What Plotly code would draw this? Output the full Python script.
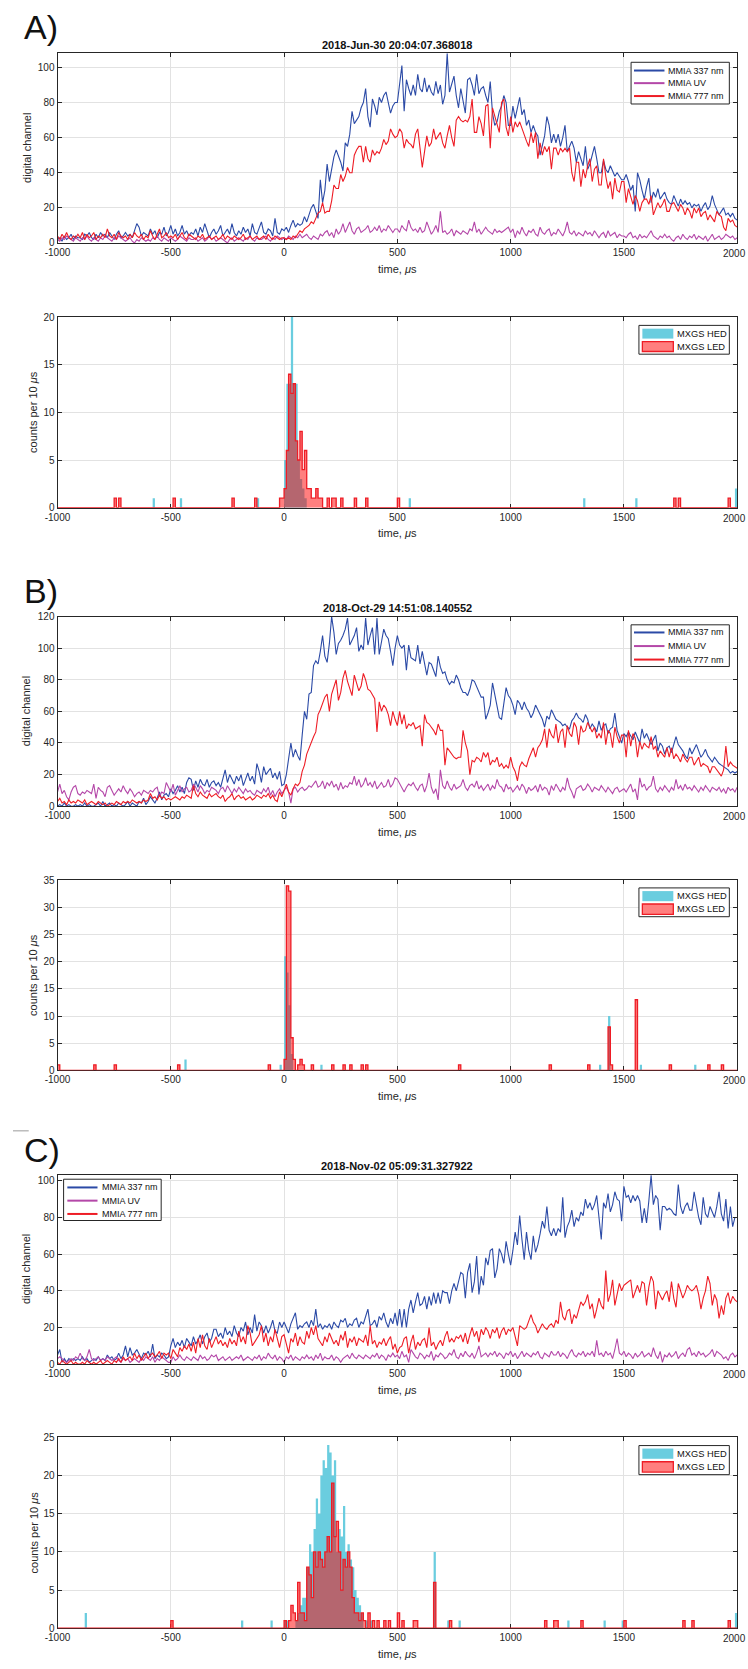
import plotly.graph_objects as go

W, H = 748, 1669

# ---------------- data ----------------
t_us = list(range(-1000, 2001, 10))          # MMIA samples, 10 us
bin_edges = list(range(-1000, 2001, 10))     # MXGS histogram bin edges

x_tickvals = [-1000, -500, 0, 500, 1000, 1500, 2000]
x_ticktext = ['-1000', '-500', '0', '500', '1000', '1500', '']
x_last_label = '2000'   # drawn flush with the page edge, as in the original

titles = ['2018-Jun-30 20:04:07.368018', '2018-Oct-29 14:51:08.140552', '2018-Nov-02 05:09:31.327922']
panel_labels = ['A)', 'B)', 'C)']
line_names = ['MMIA 337 nm', 'MMIA UV', 'MMIA 777 nm']
hist_names = ['MXGS HED', 'MXGS LED']

a337 = [2, 3, 1, 4, 2, 3, 5, 2, 4, 3,
        3, 2, 5, 4, 6, 3, 2, 5, 3, 6,
        4, 5, 3, 6, 4, 2, 5, 7, 3, 4,
        6, 4, 5, 3, 7, 11, 9, 4, 6, 5,
        4, 8, 5, 7, 3, 6, 5, 9, 4, 6,
        10, 5, 8, 4, 6, 10, 5, 7, 4, 6,
        5, 8, 4, 9, 6, 11, 7, 3, 6, 8,
        5, 7, 10, 4, 6, 8, 5, 11, 6, 4,
        7, 5, 9, 6, 8, 4, 11, 6, 5, 9,
        12, 6, 5, 8, 7, 4, 14, 6, 5, 8,
        7, 9, 6, 10, 13, 9, 11, 10, 11, 15,
        12, 16, 20, 22, 18, 14, 36, 23, 30, 45,
        35, 42, 49, 53, 50, 46, 41, 57, 55, 62,
        75, 68, 70, 72, 77, 80, 88, 72, 66, 82,
        78, 73, 83, 80, 84, 86, 80, 74, 78, 80,
        80, 90, 101, 75, 93, 88, 84, 90, 84, 96,
        88, 86, 94, 86, 90, 86, 84, 92, 85, 90,
        79, 84, 108, 86, 90, 95, 84, 77, 88, 80,
        74, 93, 94, 90, 84, 96, 85, 88, 89, 84,
        80, 92, 74, 67, 69, 75, 78, 84, 80, 67,
        67, 78, 71, 77, 83, 73, 76, 67, 70, 63,
        67, 63, 61, 50, 55, 61, 72, 67, 57, 62,
        57, 62, 55, 60, 67, 52, 55, 58, 54, 46,
        52, 48, 44, 55, 42, 45, 50, 55, 48, 40,
        40, 47, 42, 40, 44, 41, 38, 40, 38, 36,
        36, 39, 35, 30, 33, 18, 40, 36, 30, 25,
        32, 37, 23, 29, 26, 31, 25, 27, 29, 25,
        23, 22, 27, 24, 21, 25, 22, 24, 22, 23,
        20, 22, 21, 22, 18, 21, 23, 19, 21, 27,
        22, 19, 16, 18, 20, 16, 17, 15, 17, 14,
        13]

a_uv = [2, 1, 3, 2, 4, 3, 2, 1, 3, 2,
        1, 3, 2, 4, 2, 1, 3, 2, 1, 3,
        2, 4, 3, 2, 1, 3, 2, 4, 3, 2,
        1, 2, 3, 1, 0, 2, 1, 3, 2, 1,
        2, 1, 3, 2, 4, 2, 1, 3, 2, 1,
        3, 2, 1, 2, 4, 3, 2, 1, 3, 2,
        2, 3, 1, 2, 3, 1, 2, 4, 2, 3,
        1, 2, 3, 2, 1, 0, 2, 3, 1, 2,
        3, 2, 1, 3, 2, 4, 2, 1, 3, 2,
        2, 3, 4, 2, 1, 3, 2, 4, 3, 2,
        3, 2, 4, 3, 2, 4, 3, 5, 3, 4,
        5, 3, 2, 4, 3, 2, 5, 4, 6, 7,
        4, 6, 3, 8, 5, 7, 11, 6, 9, 12,
        7, 5, 8, 9, 6, 7, 8, 10, 6, 7,
        9, 7, 10, 6, 8, 7, 10, 8, 6, 8,
        8, 6, 10, 8, 7, 13, 9, 7, 8, 6,
        9, 6, 7, 12, 8, 5, 7, 10, 6, 18,
        6, 7, 5, 6, 8, 4, 7, 6, 5, 7,
        6, 5, 8, 7, 12, 6, 8, 5, 7, 9,
        7, 6, 5, 8, 6, 7, 6, 7, 8, 9,
        6, 8, 3, 7, 5, 9, 6, 4, 7, 6,
        8, 5, 4, 9, 6, 5, 7, 8, 4, 6,
        5, 8, 6, 4, 7, 12, 6, 5, 7, 4,
        6, 5, 4, 7, 5, 6, 4, 7, 5, 3,
        5, 6, 3, 7, 4, 5, 6, 3, 5, 4,
        4, 3, 5, 6, 3, 4, 2, 5, 3, 4,
        3, 5, 7, 4, 3, 2, 4, 3, 5, 3,
        4, 2, 1, 3, 4, 2, 5, 3, 2, 4,
        3, 5, 2, 4, 3, 2, 4, 1, 3, 5,
        2, 3, 4, 2, 3, 5, 4, 3, 4, 2,
        3]

a777 = [4, 2, 5, 3, 6, 3, 2, 4, 3, 5,
        3, 6, 2, 5, 3, 4, 6, 2, 4, 3,
        5, 3, 8, 4, 3, 5, 2, 6, 4, 3,
        4, 2, 5, 3, 6, 4, 3, 5, 2, 4,
        3, 7, 4, 2, 5, 8, 3, 4, 6, 3,
        4, 3, 5, 2, 4, 6, 3, 2, 5, 4,
        3, 2, 4, 3, 5, 2, 3, 4, 2, 3,
        4, 2, 3, 5, 2, 4, 3, 2, 4, 3,
        2, 3, 5, 2, 3, 4, 2, 3, 4, 2,
        3, 4, 2, 5, 3, 2, 4, 3, 2, 3,
        3, 2, 3, 2, 4, 3, 5, 7, 6, 8,
        9, 10, 12, 11, 14, 17, 18, 23, 17, 18,
        18, 24, 33, 31, 31, 39, 35, 38, 43, 40,
        40, 50, 53, 55, 55, 46, 55, 48, 46, 53,
        50, 52, 51, 54, 59, 56, 58, 65, 62, 60,
        61, 65, 63, 54, 59, 57, 56, 54, 62, 65,
        54, 43, 52, 61, 55, 57, 65, 59, 61, 63,
        57, 54, 61, 67, 60, 55, 70, 72, 70, 69,
        70, 69, 72, 82, 63, 63, 72, 68, 61, 78,
        79, 54, 77, 72, 68, 63, 80, 82, 66, 61,
        72, 63, 69, 66, 69, 65, 61, 58, 55, 63,
        57, 63, 48, 57, 50, 55, 52, 55, 42, 54,
        54, 50, 54, 52, 54, 52, 54, 40, 35, 46,
        46, 32, 42, 37, 44, 48, 35, 42, 44, 33,
        33, 48, 38, 31, 35, 25, 37, 30, 29, 35,
        35, 23, 31, 26, 22, 27, 24, 18, 23, 25,
        25, 22, 27, 16, 20, 23, 20, 22, 25, 18,
        18, 22, 23, 20, 18, 22, 20, 16, 20, 18,
        14, 20, 17, 20, 15, 17, 18, 13, 16, 14,
        12, 18, 16, 15, 9, 7, 14, 12, 13, 10,
        9]

b337 = [0, 1, 0, 2, 0, 1, 0, 0, 1, 0,
        1, 0, 2, 0, 1, 0, 0, 1, 2, 0,
        3, 0, 1, 2, 0, 1, 0, 2, 1, 0,
        1, 3, 0, 2, 1, 0, 3, 2, 5, 1,
        3, 6, 4, 2, 5, 9, 4, 7, 8, 6,
        11, 8, 10, 13, 9, 12, 8, 15, 18, 17,
        10, 16, 12, 17, 14, 13, 17, 12, 15, 16,
        13, 15, 12, 18, 23, 15, 20, 17, 14, 19,
        16, 20, 13, 17, 21, 16, 19, 14, 27, 22,
        15, 25, 20, 22, 24, 18, 21, 17, 22, 13,
        14, 20, 30, 40, 31, 36, 32, 29, 45, 60,
        55, 71, 72, 89, 92, 90, 98, 108, 95, 91,
        103, 120, 110, 96, 103, 105, 108, 112, 119, 102,
        105, 108, 113, 98, 102, 99, 119, 102, 108, 113,
        96, 119, 96, 105, 112, 108, 106, 98, 89, 100,
        108, 102, 100, 102, 86, 102, 94, 93, 92, 102,
        90, 98, 89, 83, 91, 90, 86, 82, 95, 88,
        84, 85, 80, 77, 79, 78, 83, 80, 75, 72,
        72, 70, 74, 80, 79, 76, 72, 69, 69, 55,
        59, 64, 78, 71, 62, 56, 55, 65, 75, 70,
        68, 64, 58, 67, 65, 61, 66, 62, 60, 56,
        59, 64, 61, 58, 55, 50, 57, 55, 61, 58,
        55, 54, 53, 51, 52, 50, 49, 54, 56, 59,
        56, 55, 53, 58, 55, 49, 52, 50, 47, 54,
        48, 51, 52, 46, 49, 50, 59, 48, 44, 40,
        46, 44, 47, 44, 42, 47, 44, 40, 49, 43,
        46, 43, 39, 42, 45, 35, 40, 38, 33, 37,
        38, 34, 40, 44, 39, 37, 35, 32, 30, 37,
        33, 36, 39, 35, 31, 33, 36, 32, 30, 28,
        31, 29, 27, 26, 25, 24, 23, 21, 22, 21,
        22]

b_uv = [9, 14, 8, 10, 6, 4, 9, 12, 13, 8,
        7, 9, 8, 10, 9, 8, 14, 5, 12, 10,
        9, 6, 12, 13, 10, 7, 9, 11, 9, 13,
        10, 8, 11, 9, 6, 8, 9, 7, 10, 9,
        8, 10, 9, 11, 12, 6, 9, 8, 15, 12,
        9, 14, 7, 10, 13, 9, 11, 12, 9, 10,
        14, 12, 9, 13, 11, 8, 10, 9, 12, 11,
        10, 8, 11, 12, 9, 13, 10, 8, 11, 9,
        12, 10, 8, 11, 9, 10, 8, 7, 10, 9,
        8, 11, 9, 12, 7, 10, 6, 9, 11, 8,
        10, 12, 9, 2, 11, 12, 9, 11, 12, 10,
        11, 13, 12, 14, 16, 12, 13, 16, 11, 15,
        13, 16, 12, 14, 10, 15, 11, 13, 12, 15,
        14, 19, 13, 17, 12, 14, 18, 13, 15, 12,
        16, 11, 13, 15, 12, 13, 17, 12, 14, 18,
        17, 14, 12, 9, 12, 14, 13, 15, 12, 10,
        13, 14, 9, 13, 21, 12, 8, 11, 4, 23,
        13, 11, 16, 12, 10, 14, 11, 12, 13, 17,
        12, 10, 13, 14, 12, 16, 11, 13, 10, 12,
        14, 10, 13, 11, 17, 13, 12, 9, 14, 11,
        12, 9, 11, 13, 10, 14, 12, 8, 12, 10,
        11, 13, 9, 14, 10, 12, 11, 7, 13, 10,
        14, 11, 9, 12, 10, 18, 12, 9, 5, 11,
        12, 13, 10, 11, 14, 12, 9, 12, 11, 10,
        13, 11, 9, 12, 10, 8, 11, 12, 9, 10,
        11, 9, 12, 14, 9, 11, 4, 18, 12, 14,
        10, 12, 13, 19, 11, 9, 12, 10, 13, 11,
        9, 12, 10, 17, 11, 13, 10, 14, 11, 12,
        10, 13, 11, 9, 12, 10, 13, 11, 9, 12,
        11, 10, 12, 9, 11, 8, 12, 10, 11, 9,
        12]

b777 = [3, 5, 2, 3, 1, 4, 2, 3, 2, 4,
        3, 2, 4, 1, 2, 3, 2, 1, 3, 2,
        1, 2, 0, 1, 2, 1, 3, 2, 1, 3,
        2, 3, 2, 4, 3, 2, 3, 2, 4, 3,
        4, 8, 5, 6, 4, 7, 5, 6, 4, 5,
        4, 5, 6, 5, 4, 6, 5, 7, 6, 5,
        13, 8, 6, 9, 7, 6, 5, 8, 6, 7,
        8, 6, 5, 7, 3, 5, 6, 8, 4, 6,
        7, 5, 6, 4, 5, 6, 4, 5, 7, 6,
        5, 7, 6, 8, 5, 7, 4, 3, 9, 6,
        10, 14, 9, 7, 11, 14, 13, 15, 22, 26,
        33, 37, 41, 44, 47, 58, 61, 65, 69, 71,
        60, 71, 75, 80, 67, 72, 81, 86, 79, 74,
        70, 83, 78, 73, 76, 84, 80, 74, 73, 70,
        68, 47, 66, 60, 64, 62, 58, 51, 60, 55,
        51, 60, 52, 58, 49, 52, 51, 53, 49, 50,
        51, 38, 58, 53, 52, 50, 48, 45, 52, 48,
        48, 26, 37, 35, 33, 31, 30, 31, 31, 48,
        40, 35, 20, 29, 28, 31, 30, 28, 34, 31,
        34, 26, 29, 28, 31, 25, 27, 24, 26, 24,
        31, 25, 22, 16, 25, 28, 26, 25, 30, 33,
        37, 31, 37, 39, 42, 49, 37, 49, 45, 43,
        52, 40, 47, 49, 37, 51, 46, 44, 53, 50,
        39, 51, 47, 48, 53, 50, 47, 50, 43, 46,
        43, 53, 39, 48, 46, 37, 50, 44, 40, 45,
        45, 31, 48, 38, 46, 43, 31, 41, 36, 40,
        38, 37, 44, 36, 38, 31, 35, 33, 31, 37,
        31, 37, 30, 33, 31, 28, 33, 30, 28, 31,
        31, 26, 29, 31, 25, 27, 26, 25, 21, 25,
        25, 23, 21, 19, 23, 38, 25, 28, 26, 25,
        24]

c337 = [5, 8, 1, 3, 1, 3, 2, 3, 2, 3,
        2, 4, 2, 3, 1, 2, 3, 2, 4, 2,
        3, 2, 5, 3, 4, 2, 3, 6, 3, 5,
        10, 4, 9, 5, 6, 8, 5, 3, 6, 5,
        7, 4, 11, 3, 5, 4, 6, 5, 3, 4,
        10, 14, 9, 12, 10, 13, 9, 14, 12, 10,
        15, 11, 13, 16, 11, 15, 17, 12, 14, 19,
        19, 15, 17, 14, 20, 16, 18, 15, 21, 17,
        15, 20, 18, 23, 16, 20, 17, 27, 18, 23,
        21, 17, 21, 17, 20, 24, 18, 17, 23, 20,
        23, 20, 17, 22, 25, 28, 19, 21, 20, 22,
        23, 20, 24, 21, 30, 20, 22, 19, 21, 20,
        22, 19, 23, 21, 20, 24, 23, 25, 20, 22,
        21, 24, 25, 20, 23, 22, 26, 30, 21, 22,
        24, 20, 26, 24, 28, 23, 20, 25, 22, 28,
        21, 30, 20, 30, 20, 30, 35, 28, 34, 39,
        32, 33, 37, 30, 37, 32, 39, 33, 39, 33,
        40, 39, 39, 33, 40, 44, 40, 45, 50, 49,
        36, 50, 55, 39, 45, 59, 38, 48, 43, 58,
        54, 62, 63, 47, 52, 63, 60, 55, 67, 60,
        54, 62, 72, 65, 81, 68, 57, 72, 62, 57,
        70, 61, 65, 71, 78, 74, 86, 73, 70, 74,
        70, 74, 72, 91, 69, 75, 78, 84, 75, 80,
        78, 83, 81, 90, 85, 88, 84, 87, 92, 80,
        68, 88, 85, 93, 83, 87, 94, 90, 89, 78,
        97, 91, 92, 88, 92, 89, 92, 89, 77, 85,
        77, 89, 103, 87, 92, 90, 73, 86, 86, 84,
        85, 84, 82, 81, 98, 86, 82, 86, 88, 84,
        84, 94, 86, 80, 76, 91, 82, 80, 86, 83,
        80, 86, 94, 82, 78, 90, 74, 86, 75, 80,
        80]

c_uv = [3, 4, 3, 2, 1, 2, 3, 2, 4, 3,
        6, 3, 2, 4, 8, 3, 2, 3, 4, 2,
        3, 2, 4, 3, 2, 3, 4, 2, 1, 3,
        2, 3, 1, 2, 3, 2, 1, 3, 2, 4,
        3, 2, 4, 1, 3, 2, 4, 3, 2, 1,
        1, 4, 2, 3, 5, 3, 2, 4, 3, 2,
        4, 3, 2, 5, 3, 4, 2, 3, 5, 4,
        5, 2, 3, 4, 2, 3, 4, 2, 3, 4,
        3, 5, 2, 3, 4, 3, 2, 4, 3, 5,
        2, 4, 3, 6, 4, 3, 5, 2, 4, 3,
        1, 4, 3, 5, 2, 4, 3, 2, 4, 3,
        5, 3, 4, 2, 5, 3, 6, 2, 4, 3,
        3, 5, 2, 4, 3, 1, 3, 4, 5, 3,
        6, 4, 3, 5, 4, 3, 5, 4, 3, 5,
        4, 6, 3, 5, 4, 2, 5, 4, 6, 4,
        5, 3, 7, 4, 5, 1, 8, 6, 4, 3,
        6, 5, 3, 5, 4, 7, 2, 5, 4, 6,
        5, 3, 4, 6, 5, 8, 4, 3, 6, 4,
        7, 5, 4, 6, 3, 6, 10, 4, 5, 6,
        4, 6, 5, 7, 4, 6, 5, 3, 6, 5,
        7, 4, 6, 3, 5, 7, 4, 6, 5, 4,
        6, 5, 7, 4, 3, 6, 5, 4, 7, 5,
        5, 7, 4, 6, 5, 3, 6, 8, 5, 4,
        6, 5, 7, 4, 6, 5, 7, 4, 13, 5,
        6, 4, 7, 5, 6, 3, 8, 14, 6, 5,
        7, 4, 6, 5, 3, 6, 4, 5, 7, 4,
        5, 6, 4, 9, 5, 3, 7, 1, 5, 4,
        6, 4, 5, 7, 3, 5, 6, 4, 8, 9,
        5, 6, 4, 7, 5, 6, 4, 5, 6, 8,
        4, 7, 6, 5, 3, 4, 2, 5, 6, 4,
        5]

c777 = [1, 0, 2, 1, 0, 1, 2, 0, 1, 0,
        0, 1, 0, 2, 1, 0, 1, 0, 1, 2,
        0, 1, 2, 1, 0, 2, 1, 3, 1, 4,
        2, 3, 4, 2, 6, 3, 5, 2, 4, 6,
        3, 5, 6, 4, 5, 7, 3, 6, 5, 6,
        3, 8, 6, 4, 9, 7, 10, 8, 11, 7,
        12, 6, 14, 9, 16, 10, 8, 14, 9, 12,
        15, 11, 13, 10, 12, 9, 14, 11, 13, 10,
        18, 12, 15, 11, 21, 17, 10, 12, 14, 16,
        21, 12, 17, 10, 15, 12, 19, 13, 9, 15,
        16, 11, 6, 14, 12, 17, 10, 15, 12, 11,
        18, 14, 20, 16, 21, 14, 12, 10, 15, 12,
        17, 14, 11, 13, 10, 16, 13, 18, 9, 14,
        12, 15, 10, 14, 13, 12, 16, 10, 21, 11,
        13, 9, 12, 11, 14, 10, 13, 15, 8, 11,
        6, 9, 10, 14, 15, 6, 12, 16, 8, 12,
        10, 13, 14, 9, 20, 10, 12, 8, 11, 13,
        10, 15, 18, 12, 14, 12, 15, 14, 16, 12,
        17, 11, 16, 20, 15, 18, 12, 19, 16, 20,
        18, 14, 19, 17, 20, 14, 18, 20, 16, 19,
        18, 20, 15, 10, 21, 20, 19, 20, 23, 27,
        23, 21, 17, 20, 22, 20, 19, 21, 22, 20,
        24, 22, 34, 26, 24, 29, 30, 22, 27, 25,
        30, 34, 32, 34, 38, 30, 33, 25, 30, 36,
        32, 30, 51, 34, 38, 46, 32, 38, 44, 40,
        43, 44, 45, 46, 36, 40, 43, 39, 45, 44,
        32, 42, 48, 45, 30, 40, 37, 35, 38, 40,
        34, 45, 36, 31, 44, 40, 36, 39, 43, 41,
        40, 41, 43, 38, 30, 36, 40, 48, 44, 32,
        38, 35, 25, 32, 27, 36, 39, 33, 37, 35,
        34]

# MXGS histograms: non-empty 10-us bins (left edge, us) and counts
hed_a_bins = [-580, -460, -120, 0, 10, 20, 30, 40, 50, 60, 70, 80, 90, 550, 1320, 1550, 1990]
hed_a_counts = [1, 1, 1, 5, 13, 13, 20, 13, 13, 5, 3, 2, 1, 1, 1, 1, 2]
led_a_bins = [-750, -730, -490, -230, -130, -20, -10, 0, 10, 20, 30, 40, 50, 60, 70, 80, 90, 100,
              110, 120, 130, 140, 150, 160, 190, 210, 220, 250, 310, 360, 500, 1720, 1740, 1960]
led_a_counts = [1, 1, 1, 1, 1, 1, 1, 2, 6, 14, 12, 13, 7, 5, 8, 4, 6, 2,
                2, 1, 1, 2, 1, 1, 1, 1, 1, 1, 1, 1, 1, 1, 1, 1]

hed_b_bins = [-440, -20, 0, 10, 20, 30, 160, 1390, 1430, 1570, 1810]
hed_b_counts = [2, 1, 21, 18, 12, 3, 1, 1, 10, 1, 1]
led_b_bins = [-1000, -840, -750, -470, -70, 0, 10, 20, 30, 40, 60, 70, 80, 120, 210, 260, 290,
              340, 360, 770, 1170, 1340, 1430, 1440, 1550, 1700, 1870, 1930]
led_b_counts = [1, 1, 1, 1, 1, 2, 34, 33, 6, 2, 1, 2, 1, 1, 1, 1, 1,
                1, 1, 1, 1, 1, 8, 1, 13, 1, 1, 1]

hed_c_bins = [-880, -190, -60, 0, 10, 50, 60, 70, 80, 90, 100, 110, 120, 130, 140, 150, 160, 170,
              180, 190, 200, 210, 220, 230, 240, 250, 260, 270, 280, 290, 300, 310, 320, 330,
              340, 360, 380, 660, 720, 770, 1250, 1410, 1490, 1990]
hed_c_counts = [2, 1, 1, 1, 1, 1, 2, 3, 4, 4, 8, 11, 10, 13, 17, 15, 20, 22,
                21, 24, 23, 20, 22, 10, 13, 12, 16, 10, 11, 9, 8, 5, 4, 3,
                2, 1, 1, 10, 1, 1, 1, 1, 1, 2]
led_c_bins = [-500, 0, 20, 30, 40, 50, 60, 70, 80, 90, 100, 110, 120, 130, 140, 150, 160, 170,
              180, 190, 200, 210, 220, 230, 240, 250, 260, 270, 280, 290, 300, 310, 320, 330,
              340, 350, 370, 390, 410, 440, 460, 500, 520, 570, 580, 660, 730, 1150, 1190,
              1200, 1310, 1500, 1760, 1800, 1960]
led_c_counts = [1, 1, 1, 3, 2, 1, 6, 2, 2, 1, 8, 7, 4, 10, 8, 10, 9, 8,
                10, 12, 10, 19, 12, 14, 10, 5, 9, 8, 10, 8, 4, 2, 2, 1,
                2, 1, 2, 1, 1, 1, 1, 2, 1, 1, 1, 6, 1, 1, 1,
                1, 1, 1, 1, 1, 1]

line_yticks = [[0, 20, 40, 60, 80, 100], [0, 20, 40, 60, 80, 100, 120], [0, 20, 40, 60, 80, 100]]
line_yranges = [[0, 108], [0, 120], [0, 103.4]]
hist_yticks = [[0, 5, 10, 15, 20], [0, 5, 10, 15, 20, 25, 30, 35], [0, 5, 10, 15, 20, 25]]
hist_yranges = [[0, 20], [0, 35], [0, 25]]

# ---------------- styling / layout ----------------
C337 = '#2B4AA6'
CUV = '#B447A8'
C777 = '#EE1C25'
CHED = '#6ACDDF'
CLED_FILL = 'rgba(255,0,0,0.5)'
CLED_EDGE = '#EE1C25'
AXC = '#262626'
GRID = '#e2e2e2'
FONT = 'Arial, Liberation Sans, sans-serif'
NARROW = 'Liberation Sans Narrow, Arial Narrow, Arial, sans-serif'

X0, X1 = 45.3, 737.0
# (top, bottom) of plot areas in px
boxes = [(47.7, 238.7), (313.3, 505.3), (615.0, 806.0), (880.7, 1072.0), (1177.0, 1368.0), (1441.7, 1634.0)]


def px(x):
    return x / W


def py(y):
    return 1 - y / H


def full_hist(bins, counts):
    c = [0] * (len(bin_edges) - 1)
    for b, n in zip(bins, counts):
        c[(b - bin_edges[0]) // 10] = n
    return c + [c[-1]]


fig = go.Figure()

line_data = [(a337, a_uv, a777), (b337, b_uv, b777), (c337, c_uv, c777)]
hist_data = [(hed_a_bins, hed_a_counts, led_a_bins, led_a_counts),
             (hed_b_bins, hed_b_counts, led_b_bins, led_b_counts),
             (hed_c_bins, hed_c_counts, led_c_bins, led_c_counts)]

layout = dict(width=W, height=H, margin=dict(l=0, r=0, t=0, b=0),
              paper_bgcolor='white', plot_bgcolor='white', showlegend=False)

for k in range(6):
    n = k + 1
    sfx = '' if n == 1 else str(n)
    top, bot = boxes[k]
    p = k // 2
    is_line = (k % 2 == 0)
    layout['xaxis' + sfx] = dict(
        domain=[px(X0), px(X1)], anchor='y' + sfx, range=[-1000, 2000],
        tickvals=x_tickvals, ticktext=x_ticktext,
        showline=True, linecolor=AXC, linewidth=1, mirror='ticks',
        ticks='inside', ticklen=4, tickcolor=AXC, tickwidth=1,
        showgrid=True, gridcolor=GRID, gridwidth=1, zeroline=False,
        tickfont=dict(family=FONT, size=10, color=AXC), fixedrange=True,
        layer='above traces' if is_line else 'below traces')
    layout['yaxis' + sfx] = dict(
        domain=[py(bot), py(top)], anchor='x' + sfx,
        range=line_yranges[p] if is_line else hist_yranges[p],
        tickvals=line_yticks[p] if is_line else hist_yticks[p],
        showline=True, linecolor=AXC, linewidth=1, mirror='ticks',
        ticks='inside', ticklen=4, tickcolor=AXC, tickwidth=1,
        showgrid=True, gridcolor=GRID, gridwidth=1, zeroline=False,
        tickfont=dict(family=FONT, size=10, color=AXC), fixedrange=True)

    if is_line:
        s337, suv, s777 = line_data[p]
        for ys, col, nm in ((s337, C337, line_names[0]), (suv, CUV, line_names[1]), (s777, C777, line_names[2])):
            fig.add_trace(go.Scatter(x=t_us, y=ys, mode='lines', name=nm,
                                     line=dict(color=col, width=1.1),
                                     xaxis='x' + sfx, yaxis='y' + sfx))
    else:
        hb, hc, lb, lc = hist_data[p]
        fig.add_trace(go.Scatter(x=bin_edges, y=full_hist(hb, hc), mode='lines', name=hist_names[0],
                                 line=dict(shape='hv', width=0, color=CHED),
                                 fill='tozeroy', fillcolor=CHED,
                                 xaxis='x' + sfx, yaxis='y' + sfx))
        fig.add_trace(go.Scatter(x=bin_edges, y=full_hist(lb, lc), mode='lines', name=hist_names[1],
                                 line=dict(shape='hv', width=1.3, color=CLED_EDGE),
                                 fill='tozeroy', fillcolor=CLED_FILL,
                                 xaxis='x' + sfx, yaxis='y' + sfx))

annotations = []
shapes = []


def text(x, y, s, size=10, xanchor='left', family=FONT, color='#000000', angle=0, pad=1):
    annotations.append(dict(x=px(x), y=py(y), xref='paper', yref='paper', text=s,
                            showarrow=False, xanchor=xanchor, yanchor='middle', borderpad=pad,
                            textangle=angle, font=dict(family=family, size=size, color=color)))


# panel letters and titles
label_y = [21, 589, 1152]
title_y = [39, 606, 1168]
for p in range(3):
    text(9, label_y[p], panel_labels[p], size=34, family=NARROW, color='#111111')
    text((X0 + X1) / 2, title_y[p], '<b>' + titles[p] + '</b>', size=11, xanchor='center', color='#111111')

# axis titles and the right-most x tick label (flush with the page edge)
for k in range(6):
    top, bot = boxes[k]
    text((X0 + X1) / 2, bot + 26, 'time, <i>μ</i>s', size=11, xanchor='center', color=AXC)
    text(747, bot + 10.5, x_last_label, size=10, xanchor='right', color=AXC, pad=0)
    if k % 2 == 0:
        text(14, (top + bot) / 2, 'digital channel', size=11, xanchor='center', color=AXC, angle=-90)
    else:
        text(21, (top + bot) / 2, 'counts per 10 <i>μ</i>s', size=11, xanchor='center', color=AXC, angle=-90)


def rect(x0, y0, x1, y1, fill, line_col, lw):
    shapes.append(dict(type='rect', xref='paper', yref='paper',
                       x0=px(x0), x1=px(x1), y0=py(y1), y1=py(y0),
                       fillcolor=fill, line=dict(color=line_col, width=lw), layer='above'))


def seg(x0, y0, x1, y1, col, lw):
    shapes.append(dict(type='line', xref='paper', yref='paper',
                       x0=px(x0), x1=px(x1), y0=py(y0), y1=py(y1),
                       line=dict(color=col, width=lw), layer='above'))


# line legends: (box x0, y0, x1, y1, sample x0, x1, text x, row ys)
line_legends = [(629, 56.7, 729, 98.7, 632, 663, 665, [65, 77.7, 90.7]),
                (629, 623.3, 729, 665.3, 632, 663, 665, [631, 644.7, 658.3]),
                (51.5, 1181.7, 150.8, 1223.3, 55.3, 86, 88.5, [1190, 1203.3, 1216.7])]
for (bx0, by0, bx1, by1, sx0, sx1, tx, rows) in line_legends:
    rect(bx0, by0, bx1, by1, 'white', AXC, 1)
    for ry, col, nm in zip(rows, (C337, CUV, C777), line_names):
        seg(sx0, ry, sx1, ry, col, 2)
        text(tx, ry, nm, size=9, color='#111111')

hist_legends = [(637, 321.7, 729, 350.7, [(325, 335), (338, 348)]),
                (637, 888.3, 729, 917.3, [(891.5, 901.7), (904.5, 915)]),
                (637, 1450, 729, 1479.3, [(1453, 1463.3), (1466.3, 1476.7)])]
for (bx0, by0, bx1, by1, pr) in hist_legends:
    rect(bx0, by0, bx1, by1, 'white', AXC, 1)
    (h0, h1), (l0, l1) = pr
    rect(640.5, h0, 672, h1, CHED, CHED, 0)
    rect(640.5, l0, 672, l1, CLED_FILL, CLED_EDGE, 1.3)
    text(674, (h0 + h1) / 2, hist_names[0], size=9.3, color='#111111')
    text(674, (l0 + l1) / 2, hist_names[1], size=9.3, color='#111111')

# small separator stroke at the left edge above panel C
seg(0, 1133, 16, 1133, '#9a9a9a', 1)

layout['annotations'] = annotations
layout['shapes'] = shapes
fig.update_layout(**layout)

fig.write_html('out.html')
